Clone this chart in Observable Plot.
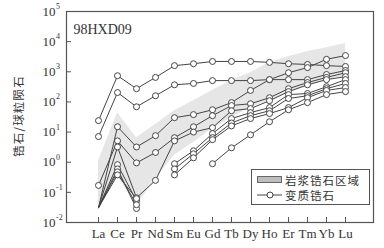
<!DOCTYPE html>
<html>
<head>
<meta charset="utf-8">
<script src="https://cdn.jsdelivr.net/npm/d3@7"></script>
<script src="https://cdn.jsdelivr.net/npm/@observablehq/plot@0.6"></script>
<style>
  html, body { margin: 0; padding: 0; background: #fff; }
  #wrap { position: relative; width: 384px; height: 248px; }
  #legend { position: absolute; left: 251px; top: 169px; width: 117px; height: 34px;
    border: 1px solid #555; background: #fff; font-family: "Noto Sans CJK SC", sans-serif;
    font-size: 11.5px; letter-spacing: 1px; color: #333; }
  .row { position: absolute; left: 5px; height: 14px; display: flex; align-items: center; }
  .row svg { margin-right: 3px; }
  #ytitle { position: absolute; left: 18px; top: 116px; transform: translate(-50%, -50%) rotate(-90deg);
    white-space: nowrap; font-family: "Noto Sans CJK SC", sans-serif; font-size: 11.5px;
    letter-spacing: 1.2px; color: #333; }
</style>
</head>
<body>
<div id="wrap"></div>
<script>
const elements = ["La","Ce","Pr","Nd","Sm","Eu","Gd","Tb","Dy","Ho","Er","Tm","Yb","Lu"];

// magmatic zircon field (lower / upper edges)
const bandLow  = [0.031, 0.35, 0.035, 0.28, 1.7, 4.5, 13, 30, 65, 110, 205, 320, 510, 740];
const bandHigh = [1.1, 44, 6.5, 18, 51, 110, 240, 510, 930, 2050, 3160, 4700, 6300, 8700];

// metamorphic zircon analyses (null = not plotted)
const s1 = [24, 740, 275, 650, 1600, 1850, 2200, 2200, 2200, 2050, 1850, 1750, 1600, 1500];
const s2 = [7.1, 205, 69, 160, 370, 410, 510, 510, 510, 550, 550, 550, 810, 1100];
const s3 = [0.031, 15, 3.2, 7.6, 30, 38, 55, 95, 240, 550, 930, 1380, 2600, 3450];
const s4 = [0.17, 5.1, 0.95, 2.1, 6.5, 15, 35, 76, 87, 138, 275, 440, 650, 930];
const s5 = [0.031, 3.2, 0.066, 0.25, 5.1, 10, 14, 51, 60, 110, 220, 370, 550, 690];
const s6 = [0.031, 0.83, 0.052, null, 0.89, 2.4, 8.9, 28, 44, 65, 175, 190, 320, 550];
const s7 = [0.031, 0.6, 0.029, null, 0.6, 1.9, 6.5, 20, 35, 51, 130, 160, 275, 410];
const s8 = [0.031, 0.48, 0.039, null, 0.38, 1.4, 5.6, 16, 28, 41, 65, 138, 240, 300];
const s9 = [0.031, 0.38, 0.062, null, null, null, 0.89, 3.0, 8.1, 22, 55, 95, 175, 220];

const yTicks = [1e-2, 1e-1, 1, 10, 100, 1e3, 1e4, 1e5];
const yExps = ["-2", "-1", "0", "1", "2", "3", "4", "5"];

const sampleLabel = "98HXD09";
const yTitle = "锆石/球粒陨石";
const legendBand = "岩浆锆石区域";
const legendLine = "变质锆石";

const series = {s1, s2, s3, s4, s5, s6, s7, s8, s9};
const rows = [];
for (const [id, vals] of Object.entries(series)) {
  vals.forEach((v, i) => rows.push({id, el: elements[i], v: v == null ? NaN : v}));
}
const band = elements.map((el, i) => ({el, lo: bandLow[i], hi: bandHigh[i]}));

const ink = "#444";
const serif = "Liberation Serif, DejaVu Serif, serif";

const chart = Plot.plot({
  width: 384,
  height: 248,
  marginLeft: 66,
  marginRight: 11,
  marginTop: 11,
  marginBottom: 26,
  style: {background: "transparent"},
  x: {type: "point", domain: elements, range: [86.5, 356]},
  y: {type: "log", domain: [1e-2, 1e5]},
  marks: [
    Plot.areaY(band, {x: "el", y1: "lo", y2: "hi", fill: "#e6e6e6"}),
    Plot.line(rows, {x: "el", y: "v", z: "id", stroke: ink, strokeWidth: 1}),
    Plot.dot(rows.filter(d => !(d.el === "La" && d.v < 0.05)), {x: "el", y: "v", r: 3, fill: "white", stroke: ink, strokeWidth: 1}),
    Plot.frame({stroke: "#555", strokeWidth: 1.2}),
    Plot.axisY(yTicks, {tickSize: 5, insetLeft: 5, tickFormat: () => "", label: null, stroke: "#555"}),
    Plot.axisX({tickSize: 5, insetBottom: 5, tickFormat: () => "", label: null, stroke: "#555"}),
    Plot.text(yTicks, {y: d => d, frameAnchor: "left", text: () => "10", dx: -24, textAnchor: "start", fontSize: 13, fontFamily: serif, fill: "#333"}),
    Plot.text(yTicks, {y: d => d, frameAnchor: "left", text: (d, i) => yExps[i], dx: -10.5, dy: -5, textAnchor: "start", fontSize: 8, fontFamily: serif, fill: "#333"}),
    Plot.text(elements, {x: d => d, frameAnchor: "bottom", dy: 15, fontSize: 13, fontFamily: serif, fill: "#333"}),
    Plot.text([sampleLabel], {frameAnchor: "top-left", dx: 7, dy: 13, textAnchor: "start", fontSize: 14, fontFamily: serif, fill: "#333"})
  ]
});

const wrap = document.getElementById("wrap");
wrap.appendChild(chart);

const title = document.createElement("div");
title.id = "ytitle";
title.textContent = yTitle;
wrap.appendChild(title);

const legend = document.createElement("div");
legend.id = "legend";
legend.innerHTML = `
  <div class="row" style="top:3px"><svg width="25" height="8"><rect x="0.5" y="0.5" width="24" height="6" fill="#bdbdbd" stroke="#666"/></svg><span>${legendBand}</span></div>
  <div class="row" style="top:18px"><svg width="25" height="8"><line x1="0" y1="4" x2="25" y2="4" stroke="${ink}"/><circle cx="13" cy="4" r="3" fill="white" stroke="${ink}"/></svg><span>${legendLine}</span></div>`;
wrap.appendChild(legend);
</script>
</body>
</html>
